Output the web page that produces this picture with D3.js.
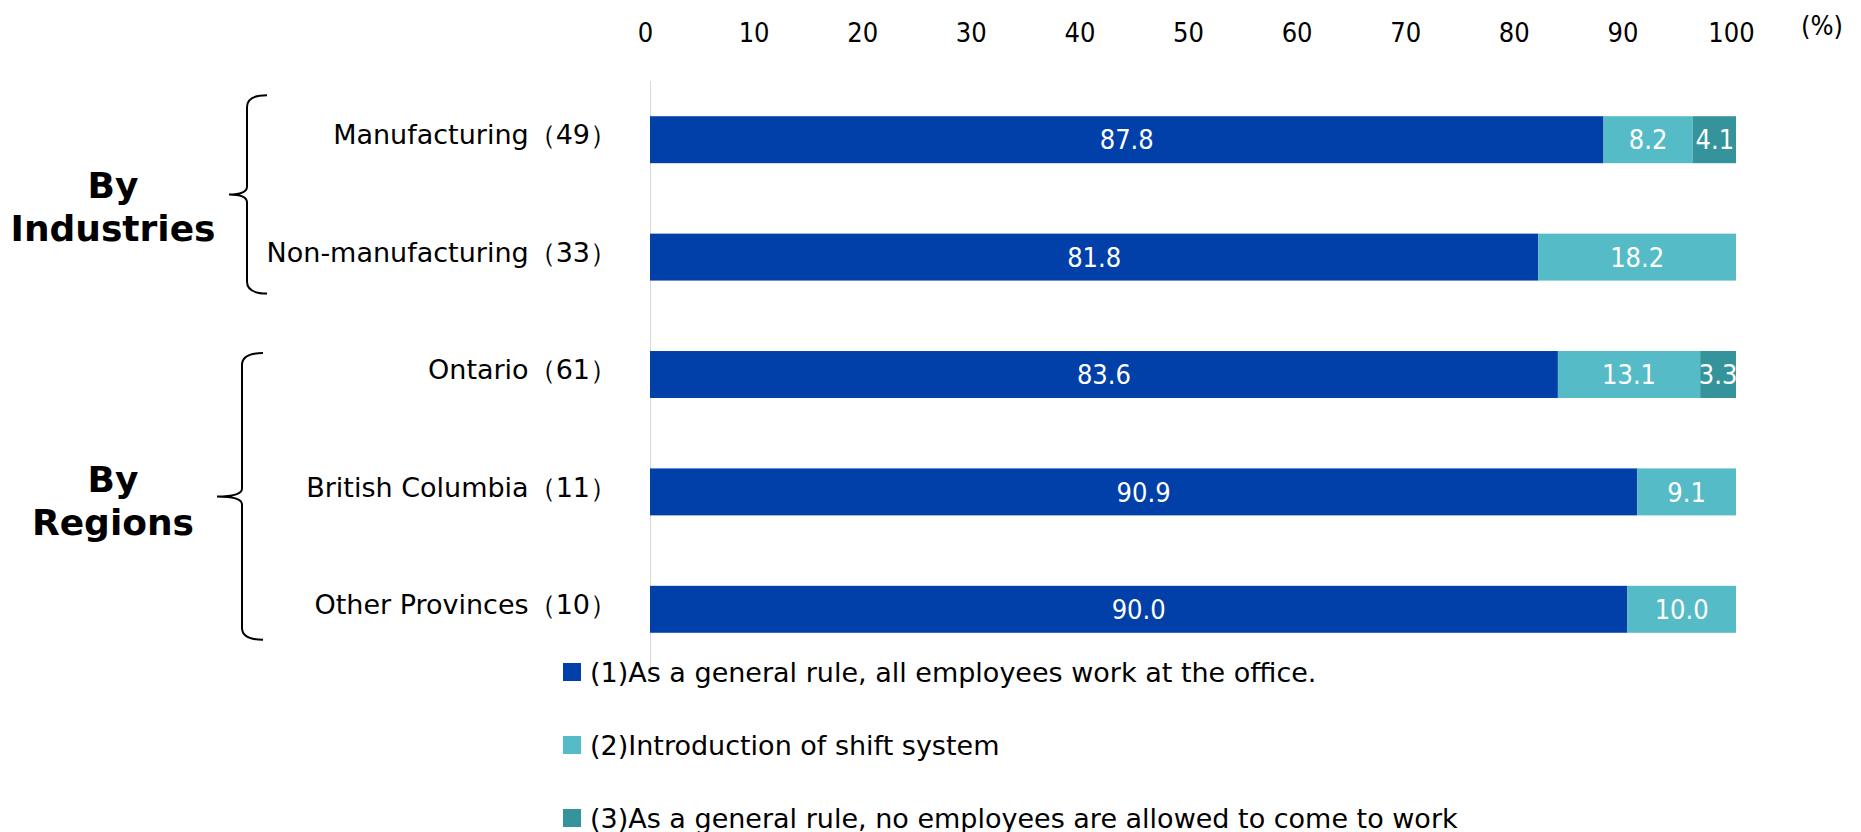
<!DOCTYPE html>
<html>
<head>
<meta charset="utf-8">
<script src="https://cdn.jsdelivr.net/npm/d3@7"></script>
<style>
  html, body { margin: 0; padding: 0; background: #fff; }
  svg { display: block; }
</style>
</head>
<body>
<div id="chart"></div>
<script>
// Categories and series (percent)
const categories = [
  'Manufacturing（49）',
  'Non-manufacturing（33）',
  'Ontario（61）',
  'British Columbia（11）',
  'Other Provinces（10）'
];
const officeWork = [87.8, 81.8, 83.6, 90.9, 90.0];
const shiftSystem = [8.2, 18.2, 13.1, 9.1, 10.0];
const noneAllowed = [4.1, 0, 3.3, 0, 0];

const seriesKeys = ['s1', 's2', 's3'];
const seriesNames = [
  '(1)As a general rule, all employees work at the office.',
  '(2)Introduction of shift system',
  '(3)As a general rule, no employees are allowed to come to work'
];
const seriesColors = ['#0040a8', '#55bbc7', '#35939b'];

const xTicks = [0, 10, 20, 30, 40, 50, 60, 70, 80, 90, 100];

const groups = [
  { title: ['By', 'Industries'], from: 0, to: 1 },
  { title: ['By', 'Regions'], from: 2, to: 4 }
];
// brace layout per group: top/bottom padding, vertical x, tip length, title shift
const braceLayout = [
  { padTop: 21, padBottom: 13, vx: 247, tip: 18, hook: 20, titleDy: 4 },
  { padTop: -2, padBottom: 7, vx: 242, tip: 25, hook: 21, titleDy: -4 }
];

const width = 1861, height = 832;
const labelFont = '"DejaVu Sans", sans-serif';
const numFont = '"DejaVu Sans Condensed", "DejaVu Sans", sans-serif';

const svg = d3.select('#chart').append('svg')
  .attr('width', width)
  .attr('height', height);

const x = d3.scaleLinear().domain([0, 100]).range([650, 1736]);
const y = d3.scaleBand().domain(categories).range([81, 668])
  .paddingInner(0.6).paddingOuter(0.3);

const rows = categories.map((c, i) => ({
  cat: c, s1: officeWork[i], s2: shiftSystem[i], s3: noneAllowed[i]
}));
const stacked = d3.stack().keys(seriesKeys)(rows);

// vertical baseline
svg.append('line')
  .attr('x1', x(0) + 0.5).attr('x2', x(0) + 0.5)
  .attr('y1', 81).attr('y2', 674)
  .attr('stroke', '#d9d9d9').attr('stroke-width', 1);

// top axis (labels only)
const axis = svg.append('g')
  .attr('transform', 'translate(-5,42)')
  .call(d3.axisTop(x).tickValues(xTicks).tickSize(0).tickPadding(0));
axis.select('.domain').remove();
axis.selectAll('text')
  .attr('font-family', numFont)
  .attr('font-size', 27)
  .attr('fill', '#000');

svg.append('text')
  .attr('x', 1822).attr('y', 35)
  .attr('text-anchor', 'middle')
  .attr('font-family', numFont)
  .attr('font-size', 27)
  .text('(%)');

// bars
const layer = svg.selectAll('g.layer')
  .data(stacked)
  .join('g')
  .attr('class', 'layer')
  .attr('fill', (d, i) => seriesColors[i]);

layer.selectAll('rect')
  .data(d => d)
  .join('rect')
  .attr('x', d => x(d[0]))
  .attr('y', d => y(d.data.cat))
  .attr('width', d => Math.max(0, Math.min(x(d[1]), x(100)) - x(d[0])))
  .attr('height', y.bandwidth());

// value labels
layer.selectAll('text')
  .data(d => d.filter(v => v[1] - v[0] > 0))
  .join('text')
  .attr('x', d => (x(d[0]) + Math.min(x(d[1]), x(100) + 3)) / 2)
  .attr('y', d => y(d.data.cat) + y.bandwidth() / 2)
  .attr('dy', '0.36em')
  .attr('text-anchor', 'middle')
  .attr('font-family', numFont)
  .attr('font-size', 27)
  .attr('fill', '#fff')
  .text(d => (d[1] - d[0]).toFixed(1));

// category labels
svg.append('g').selectAll('text')
  .data(categories)
  .join('text')
  .attr('x', 617)
  .attr('y', d => y(d) + y.bandwidth() / 2 - 5)
  .attr('dy', '0.36em')
  .attr('text-anchor', 'end')
  .attr('font-family', labelFont)
  .attr('font-size', 27)
  .attr('fill', '#000')
  .text(d => d);

// group braces and titles
const bw = y.bandwidth();
groups.forEach((g, gi) => {
  const L = braceLayout[gi];
  const top = y(categories[g.from]) - L.padTop;
  const bottom = y(categories[g.to]) + bw + L.padBottom;
  const mid = (top + bottom) / 2;
  const vx = L.vx;
  const path = `M${vx + L.hook},${top} Q${vx},${top} ${vx},${top + 12}
    L${vx},${mid - 8} Q${vx},${mid} ${vx - L.tip},${mid}
    Q${vx},${mid} ${vx},${mid + 8}
    L${vx},${bottom - 12} Q${vx},${bottom} ${vx + L.hook},${bottom}`;
  svg.append('path')
    .attr('d', path)
    .attr('fill', 'none')
    .attr('stroke', '#000')
    .attr('stroke-width', 2);

  const t = svg.append('text')
    .attr('x', 113)
    .attr('y', mid + L.titleDy)
    .attr('text-anchor', 'middle')
    .attr('font-family', labelFont)
    .attr('font-weight', 'bold')
    .attr('font-size', 36);
  g.title.forEach((line, i) => {
    t.append('tspan')
      .attr('x', 113)
      .attr('dy', i === 0 ? 0 : 43)
      .text(line);
  });
});

// legend
const legend = svg.append('g').selectAll('g')
  .data(seriesNames)
  .join('g')
  .attr('transform', (d, i) => `translate(563,${672 + i * 73})`);

legend.append('rect')
  .attr('x', 0).attr('y', -9)
  .attr('width', 18).attr('height', 18)
  .attr('fill', (d, i) => seriesColors[i]);

legend.append('text')
  .attr('x', 27)
  .attr('y', 0)
  .attr('dy', '0.36em')
  .attr('font-family', labelFont)
  .attr('font-size', 27)
  .attr('fill', '#000')
  .text(d => d);
</script>
</body>
</html>
